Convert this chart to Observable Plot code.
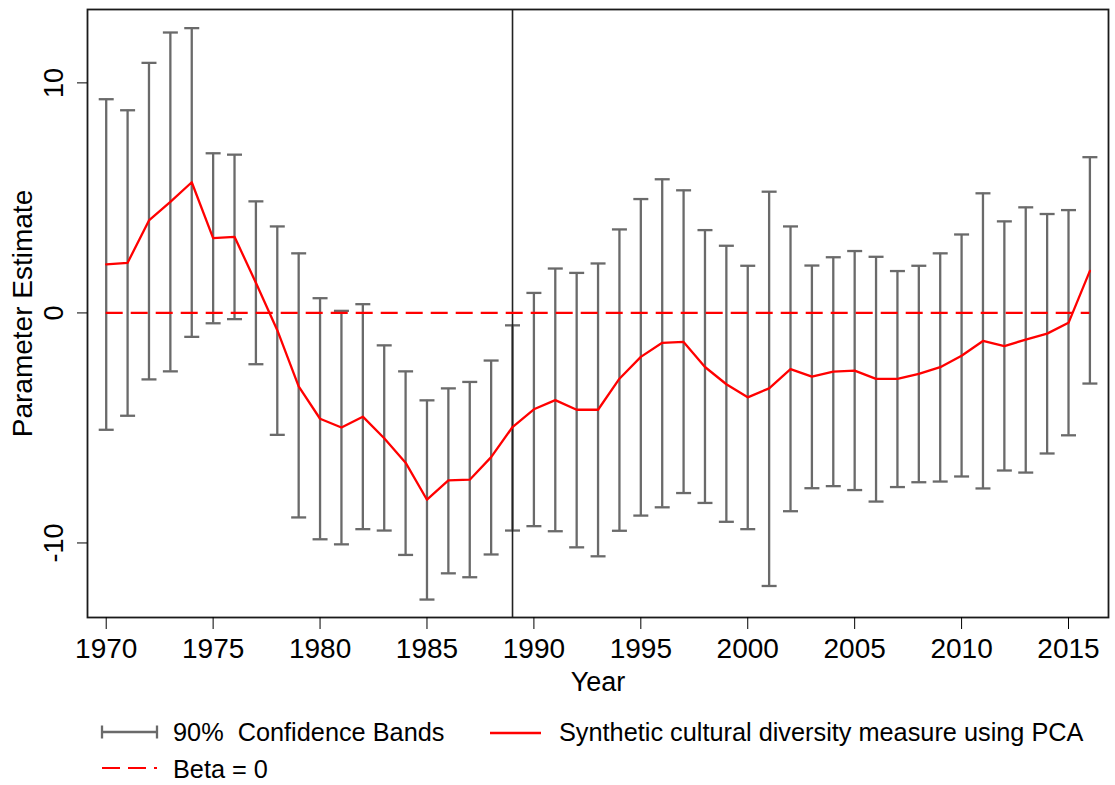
<!DOCTYPE html>
<html>
<head>
<meta charset="utf-8">
<script src="https://cdn.jsdelivr.net/npm/d3@7"></script>
<script src="https://cdn.jsdelivr.net/npm/@observablehq/plot@0.6"></script>
<style>
  html, body { margin: 0; padding: 0; background: #fff; }
  #chart svg { display: block; }
  #legend { display: block; }
  #legend text { font-family: "Liberation Sans", Arial, Helvetica, sans-serif; font-size: 25.3px; fill: #000; white-space: pre; }
</style>
</head>
<body>
<div id="chart"></div>
<svg id="legend" width="1115" height="80"></svg>
<script>
// Survey years
const years = [1970, 1971, 1972, 1973, 1974, 1975, 1976, 1977, 1978, 1979,
  1980, 1981, 1982, 1983, 1984, 1985, 1986, 1987, 1988, 1989,
  1990, 1991, 1992, 1993, 1994, 1995, 1996, 1997, 1998, 1999,
  2000, 2001, 2002, 2003, 2004, 2005, 2006, 2007, 2008, 2009,
  2010, 2011, 2012, 2013, 2014, 2015, 2016];

// Point estimates of the synthetic (PCA) cultural diversity measure
const estimate = [2.11, 2.18, 4.02, 4.83, 5.68, 3.25, 3.31, 1.31, -0.75, -3.19,
  -4.60, -4.98, -4.51, -5.45, -6.51, -8.12, -7.28, -7.25, -6.27, -4.96,
  -4.19, -3.79, -4.21, -4.21, -2.86, -1.91, -1.30, -1.26, -2.35, -3.10,
  -3.67, -3.28, -2.44, -2.77, -2.55, -2.51, -2.87, -2.87, -2.65, -2.36,
  -1.86, -1.22, -1.44, -1.16, -0.90, -0.43, 1.83];

// Upper bound of the 90% confidence band
const upper = [9.29, 8.81, 10.87, 12.19, 12.38, 6.94, 6.88, 4.85, 3.76, 2.59,
  0.64, 0.09, 0.38, -1.41, -2.54, -3.80, -3.28, -3.00, -2.07, -0.54,
  0.87, 1.93, 1.74, 2.15, 3.63, 4.95, 5.81, 5.33, 3.60, 2.92,
  2.05, 5.27, 3.76, 2.06, 2.42, 2.69, 2.44, 1.82, 2.05, 2.59,
  3.41, 5.20, 3.98, 4.59, 4.30, 4.47, 6.77];

// Lower bound of the 90% confidence band
const lower = [-5.08, -4.47, -2.89, -2.54, -1.04, -0.45, -0.27, -2.23, -5.30, -8.89,
  -9.84, -10.06, -9.40, -9.46, -10.52, -12.46, -11.32, -11.49, -10.50, -9.46,
  -9.27, -9.49, -10.19, -10.58, -9.47, -8.81, -8.45, -7.83, -8.26, -9.08,
  -9.40, -11.87, -8.62, -7.62, -7.53, -7.70, -8.20, -7.57, -7.36, -7.33,
  -7.11, -7.63, -6.85, -6.94, -6.11, -5.32, -3.07];

const xTicks = [1970, 1975, 1980, 1985, 1990, 1995, 2000, 2005, 2010, 2015];
const yTicks = [-10, 0, 10];
const breakYear = 1989;
const baselineSpan = [1970, 2016];

const rows = years.map((year, i) => ({year, est: estimate[i], hi: upper[i], lo: lower[i]}));

const gray = "#6a6a6a";
const red = "#ff0000";
const font = "Liberation Sans, Arial, Helvetica, sans-serif";

// Horizontal whisker cap, drawn as a dot symbol
const capSymbol = {
  draw(context, size) {
    const r = Math.sqrt(size / Math.PI);
    context.moveTo(-r, 0);
    context.lineTo(r, 0);
  }
};

const chart = Plot.plot({
  width: 1115,
  height: 705,
  marginLeft: 87,
  marginRight: 7,
  marginTop: 9,
  marginBottom: 88,
  style: {fontFamily: font, background: "#fff", color: "#000"},
  x: {domain: [1969.125, 2016.87]},
  y: {domain: [-13.24, 13.19]},
  marks: [
    Plot.ruleX(rows, {x: "year", y1: "lo", y2: "hi", stroke: gray, strokeWidth: 2.3}),
    Plot.dot(rows, {x: "year", y: "hi", symbol: capSymbol, r: 7.5, fill: "none", stroke: gray, strokeWidth: 2.3}),
    Plot.dot(rows, {x: "year", y: "lo", symbol: capSymbol, r: 7.5, fill: "none", stroke: gray, strokeWidth: 2.3}),
    Plot.ruleX([breakYear], {stroke: "#222", strokeWidth: 1.6}),
    Plot.ruleY([0], {x1: baselineSpan[0], x2: baselineSpan[1], stroke: red, strokeWidth: 2.2, strokeDasharray: "17,8"}),
    Plot.line(rows, {x: "year", y: "est", stroke: red, strokeWidth: 2.3}),
    Plot.frame({stroke: "#1a1a1a", strokeWidth: 1.8}),
    Plot.axisX({ticks: xTicks, tickFormat: d => String(d), tickSize: 12, tickPadding: 9, fontSize: 28, label: null}),
    Plot.axisY({ticks: yTicks, tickFormat: d => String(d), tickSize: 10, tickPadding: 15, tickRotate: -90, fontSize: 27, label: null}),
    Plot.text(["Year"], {frameAnchor: "bottom", dy: 73, lineAnchor: "bottom", fontSize: 27, fill: "#000"}),
    Plot.text(["Parameter Estimate"], {frameAnchor: "left", dx: -75, rotate: -90, textAnchor: "middle", lineAnchor: "top", fontSize: 28, fill: "#000"})
  ]
});
document.getElementById("chart").appendChild(chart);

// Legend below the plot
const legend = d3.select("#legend");
const confG = legend.append("g").attr("stroke", gray).attr("stroke-width", 2.3).attr("fill", "none");
confG.append("line").attr("x1", 102).attr("x2", 157).attr("y1", 27).attr("y2", 27);
confG.append("line").attr("x1", 102).attr("x2", 102).attr("y1", 20.5).attr("y2", 33.5);
confG.append("line").attr("x1", 157).attr("x2", 157).attr("y1", 20.5).attr("y2", 33.5);
legend.append("text").attr("x", 173).attr("y", 36).text("90%  Confidence Bands");

legend.append("line").attr("x1", 490).attr("x2", 541).attr("y1", 28).attr("y2", 28)
  .attr("stroke", red).attr("stroke-width", 2.3);
legend.append("text").attr("x", 559).attr("y", 36).text("Synthetic cultural diversity measure using PCA");

legend.append("line").attr("x1", 102).attr("x2", 157).attr("y1", 63).attr("y2", 63)
  .attr("stroke", red).attr("stroke-width", 2.2).attr("stroke-dasharray", "18,8");
legend.append("text").attr("x", 173).attr("y", 73).text("Beta = 0");
</script>
</body>
</html>
